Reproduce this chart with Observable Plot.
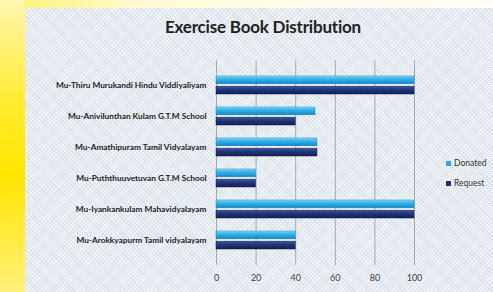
<!DOCTYPE html>
<html>
<head>
<meta charset="utf-8">
<script src="https://cdn.jsdelivr.net/npm/d3@7"></script>
<script src="https://cdn.jsdelivr.net/npm/@observablehq/plot@0.6"></script>
<style>
  html, body { margin: 0; padding: 0; }
  body {
    width: 493px; height: 292px; overflow: hidden; position: relative;
    background: linear-gradient(to right, #ffe814 0%, #fff27a 3%, #fffbd6 30%, #fffdf0 70%, #fffef6 100%);
    font-family: Lato, "Open Sans", sans-serif;
  }
  #leftglow {
    position: absolute; left: 0; top: 0; width: 25px; height: 292px;
    background: linear-gradient(to bottom, #fff6b0 0%, #ffec30 35%, #ffe600 60%, #fff07a 100%);
  }
  #panel {
    position: absolute; left: 25px; top: 8px; width: 468px; height: 284px;
    background-color: #e6ecf1;
    background-image:
      repeating-linear-gradient(45deg, rgba(190,205,218,0.35) 0 1px, transparent 1px 3px),
      repeating-linear-gradient(-45deg, rgba(255,255,255,0.6) 0 1px, transparent 1px 3px);
  }
  #title {
    position: absolute; left: 0; width: 526px; top: 16px; text-align: center;
    font-weight: 700; font-size: 17px; color: #222; letter-spacing: -0.2px;
  }
  #chart { position: absolute; left: 0; top: 0; }
  #legend { position: absolute; left: 446px; top: 153px; font-size: 8.5px; color: #333; }
  #legend div { height: 20px; display: flex; align-items: center; }
  #legend span.sw { display: inline-block; width: 5px; height: 5px; margin-right: 3px; }
</style>
</head>
<body>
<div id="leftglow"></div>
<div id="panel"></div>
<div id="title">Exercise Book Distribution</div>
<div id="chart"></div>
<div id="legend"></div>
<script>
const schools = [
  "Mu-Thiru Murukandi Hindu Viddiyaliyam",
  "Mu-Anivilunthan Kulam G.T.M School",
  "Mu-Amathipuram Tamil Vidyalayam",
  "Mu-Puththuuvetuvan G.T.M School",
  "Mu-Iyankankulam Mahavidyalayam",
  "Mu-Arokkyapurm Tamil vidyalayam"
];
const donated = [100, 50, 51, 20, 100, 40];
const request = [100, 40, 51, 20, 100, 40];
const series = ["Donated", "Request"];
const seriesColors = ["#29a9e1", "#1b2f6e"];
const xTicks = [0, 20, 40, 60, 80, 100];

const rowsD = schools.map((s, i) => ({school: s, value: donated[i]}));
const rowsR = schools.map((s, i) => ({school: s, value: request[i]}));

const plot = Plot.plot({
  width: 493,
  height: 292,
  marginLeft: 216,
  marginRight: 79,
  marginTop: 60,
  marginBottom: 27,
  style: {background: "transparent", fontFamily: "Lato, 'Open Sans', sans-serif"},
  x: {domain: [0, 100], ticks: xTicks, label: null},
  y: {domain: schools, padding: 0.42, label: null},
  marks: [
    Plot.ruleX(xTicks, {stroke: "#a3a9af", strokeWidth: 1}),
    Plot.barX(rowsD, {y: "school", x: "value", fill: "url(#gDon)", insetBottom: 10.2, stroke: "#1c86c4", strokeWidth: 0.5}),
    Plot.barX(rowsR, {y: "school", x: "value", fill: "url(#gReq)", insetTop: 10.2, stroke: "#101d48", strokeWidth: 0.5}),
    Plot.axisX({ticks: xTicks, tickSize: 0, tickPadding: 9, fontSize: 9, fill: "#444", label: null}),
    Plot.axisY({tickSize: 0, tickPadding: 10, fontSize: 8.3, fontWeight: 700, fill: "#222", label: null})
  ]
});

const ns = "http://www.w3.org/2000/svg";
const defs = document.createElementNS(ns, "defs");
defs.innerHTML = `
  <linearGradient id="gDon" x1="0" y1="0" x2="0" y2="1">
    <stop offset="0" stop-color="#8edcf8"/>
    <stop offset="0.3" stop-color="#3ab8ec"/>
    <stop offset="0.75" stop-color="#1f9ad8"/>
    <stop offset="1" stop-color="#1780c0"/>
  </linearGradient>
  <linearGradient id="gReq" x1="0" y1="0" x2="0" y2="1">
    <stop offset="0" stop-color="#3f5ea8"/>
    <stop offset="0.35" stop-color="#223a80"/>
    <stop offset="1" stop-color="#141f52"/>
  </linearGradient>`;
plot.insertBefore(defs, plot.firstChild);
document.getElementById("chart").appendChild(plot);

const legend = document.getElementById("legend");
series.forEach((s, i) => {
  const row = document.createElement("div");
  row.innerHTML = `<span class="sw" style="background:${seriesColors[i]}"></span>${s}`;
  legend.appendChild(row);
});
</script>
</body>
</html>
